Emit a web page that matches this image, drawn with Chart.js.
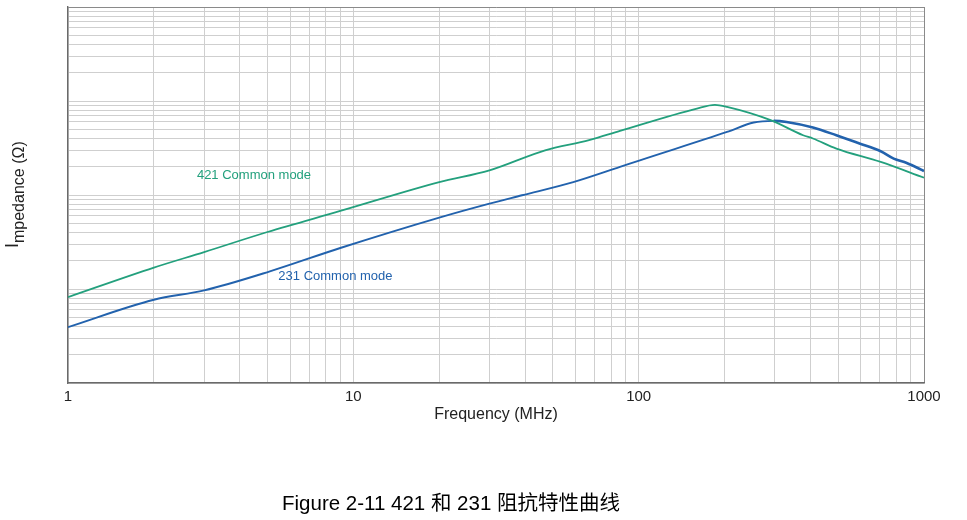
<!DOCTYPE html>
<html>
<head>
<meta charset="utf-8">
<script src="https://cdn.jsdelivr.net/npm/chart.js@4/dist/chart.umd.min.js"></script>
<style>
  html, body { margin: 0; padding: 0; background: #fff; }
  #wrap { width: 967px; height: 520px; position: relative; }
</style>
</head>
<body>
<div id="wrap"><canvas id="chart" width="967" height="520"></canvas></div>
<script>
// Impedance curves (log-log, y axis has no labels)
const freq421 = [1, 2, 3, 5, 9, 20, 30, 47, 67, 86, 160, 185, 204, 290, 377, 408, 493, 705, 1000];
const imp421 = [8.2, 16.9, 24.7, 40.4, 67.6, 137, 183, 299, 383, 481, 832, 909, 865, 625, 432, 399, 312, 225, 153];

const freq231 = [1, 2, 3, 5.1, 9, 20, 30, 39, 59, 86, 101, 204, 253, 297, 330, 408, 493, 594, 705, 783, 870, 1000];
const imp231 = [3.93, 7.69, 9.66, 15.4, 27.3, 57.5, 81, 99.3, 137, 199, 234, 469, 590, 614, 599, 522, 432, 353, 292, 244, 219, 180];

const xTickLabels = [1, 10, 100, 1000];
const seriesNames = ['421 Common mode', '231 Common mode'];

const GREEN = '#23a07d';
const BLUE = '#2262ad';
const FONT = '"Liberation Sans", Arial, sans-serif';

// 1,2,...,9,10,20,... grid values for a log axis
function logGrid(min, max) {
    const vals = [];
    for (let d = min; d < max; d *= 10) {
        for (let k = 1; k < 10; k++) vals.push(d * k);
    }
    vals.push(max);
    return vals;
}

function toPoints(xs, ys) {
    return xs.map((x, i) => ({ x: x, y: ys[i] }));
}

// axis title, curve labels and the figure caption
const textPlugin = {
    id: 'texts',
    afterDraw(chart) {
        const ctx = chart.ctx;
        const xs = chart.scales.x;
        const ys = chart.scales.y;
        ctx.save();

        // curve labels
        ctx.font = '13px ' + FONT;
        ctx.textBaseline = 'middle';
        ctx.textAlign = 'left';
        ctx.fillStyle = GREEN;
        ctx.fillText(seriesNames[0], xs.getPixelForValue(2.83), ys.getPixelForValue(162));
        ctx.fillStyle = BLUE;
        ctx.fillText(seriesNames[1], xs.getPixelForValue(5.46), ys.getPixelForValue(13.6));

        // y title with the oversized leading "I"
        ctx.fillStyle = '#222';
        ctx.textBaseline = 'alphabetic';
        ctx.save();
        ctx.translate(18, 248);
        ctx.rotate(-Math.PI / 2);
        ctx.font = '18px ' + FONT;
        ctx.fillText('I', 0, 0);
        ctx.restore();
        ctx.save();
        ctx.translate(24, 243);
        ctx.rotate(-Math.PI / 2);
        ctx.font = '16px ' + FONT;
        ctx.fillText('mpedance (\u03A9)', 0, 0);
        ctx.restore();

        // caption
        ctx.fillStyle = '#000';
        ctx.textAlign = 'center';
        ctx.textBaseline = 'middle';
        ctx.font = '20.5px "Liberation Sans", Arial, "Noto Sans CJK SC", sans-serif';
        ctx.fillText('Figure 2-11 421 和 231 阻抗特性曲线', 451, 504);
        ctx.restore();
    }
};

const gridColor = (edge) => (context) => {
    const v = context.tick ? context.tick.value : null;
    return v === edge ? '#8a8a8a' : '#cfcfcf';
};

new Chart(document.getElementById('chart'), {
    type: 'line',
    data: {
        datasets: [{
            label: seriesNames[0],
            data: toPoints(freq421, imp421),
            borderColor: GREEN,
            borderWidth: 1.8,
            pointRadius: 0,
            cubicInterpolationMode: 'monotone',
            fill: false
        }, {
            label: seriesNames[1],
            data: toPoints(freq231, imp231),
            borderColor: BLUE,
            borderWidth: 1.9,
            pointRadius: 0,
            cubicInterpolationMode: 'monotone',
            fill: false,
            segment: {
                borderWidth: ctx => ctx.p0.parsed.x >= 290 ? 2.6 : 1.9
            }
        }]
    },
    options: {
        responsive: false,
        animation: false,
        events: [],
        layout: { padding: { left: 28, right: 43, top: 7, bottom: 96 } },
        plugins: {
            legend: { display: false },
            tooltip: { enabled: false }
        },
        scales: {
            x: {
                type: 'logarithmic',
                min: 1,
                max: 1000,
                afterBuildTicks: scale => {
                    scale.ticks = logGrid(1, 1000).map(v => ({ value: v }));
                },
                afterFit: scale => { scale.height = 41; },
                grid: { color: gridColor(1000), lineWidth: 1, drawTicks: false },
                border: { color: '#6a6a6a', width: 1.4 },
                ticks: {
                    autoSkip: false,
                    maxRotation: 0,
                    padding: 5,
                    color: '#222',
                    font: { family: FONT, size: 15 },
                    callback: value => xTickLabels.includes(value) ? String(value) : ''
                },
                title: {
                    display: true,
                    text: 'Frequency (MHz)',
                    color: '#222',
                    padding: { top: 0, bottom: 0 },
                    font: { family: FONT, size: 16 }
                }
            },
            y: {
                type: 'logarithmic',
                min: 1,
                max: 10000,
                afterBuildTicks: scale => {
                    scale.ticks = logGrid(1, 10000).map(v => ({ value: v }));
                },
                afterFit: scale => { scale.width = 40; },
                grid: { color: gridColor(10000), lineWidth: 1, drawTicks: false },
                border: { color: '#6a6a6a', width: 1.4 },
                ticks: { display: false }
            }
        }
    },
    plugins: [textPlugin]
});
</script>
</body>
</html>
